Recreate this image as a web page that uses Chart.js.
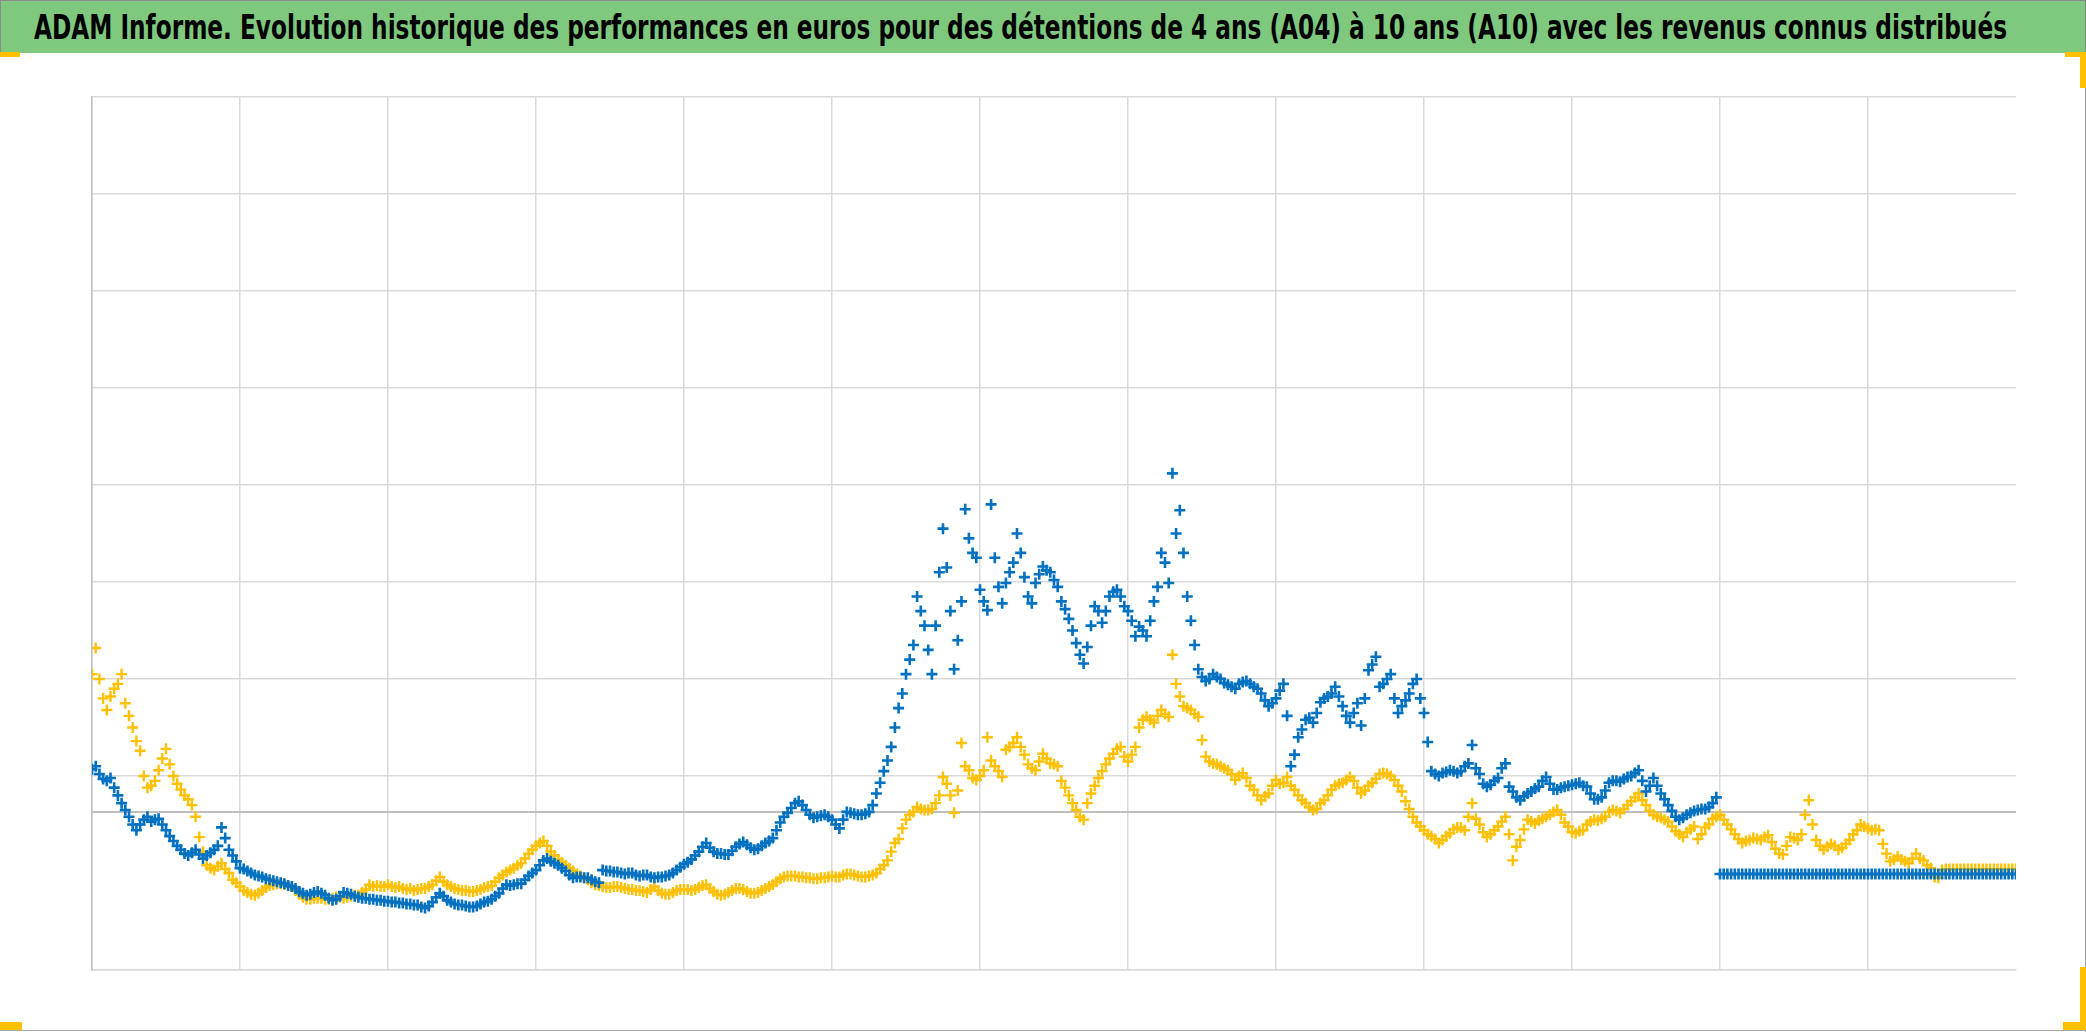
<!DOCTYPE html>
<html>
<head>
<meta charset="utf-8">
<script src="https://cdn.jsdelivr.net/npm/chart.js@4.4.1/dist/chart.umd.min.js"></script>
<style>
  html, body { margin: 0; padding: 0; background: #fff; }
  #wrap { position: relative; width: 2086px; height: 1032px; overflow: hidden; }
  #chart { position: absolute; left: 0; top: 0; }
  #banner {
    position: absolute; left: 0; top: 0; width: 2086px; height: 53px;
    box-sizing: border-box; background: #7ec97e; border: 1px solid #8a8a8a; border-bottom: none;
  }
  #title {
    position: absolute; left: 33px; top: 9px; white-space: nowrap;
    font-family: "Liberation Sans Narrow", "DejaVu Sans Condensed", sans-serif;
    font-weight: bold; font-size: 34px; line-height: 34px; color: #000;
    transform-origin: 0 0;
  }
  .mark { position: absolute; background: #ffc000; }
  .frame { position: absolute; background: #a6a6a6; }
</style>
</head>
<body>
<div id="wrap">
  <canvas id="chart" width="2086" height="1032"></canvas>
  <div id="banner"><span id="title">ADAM Informe. Evolution historique des performances en euros pour des détentions de 4 ans (A04) à 10 ans (A10) avec les revenus connus distribués</span></div>
  <div class="frame" style="left:2085px;top:53px;width:1px;height:979px"></div>
  <div class="frame" style="left:0;top:1030px;width:2086px;height:1px"></div>
  <div class="mark" style="left:0;top:52px;width:20px;height:5px"></div>
  <div class="mark" style="left:2065px;top:52px;width:21px;height:5px"></div>
  <div class="mark" style="left:2080px;top:52px;width:6px;height:36px"></div>
  <div class="mark" style="left:0;top:1022px;width:22px;height:8px"></div>
  <div class="mark" style="left:2063px;top:1022px;width:23px;height:8px"></div>
  <div class="mark" style="left:2080px;top:967px;width:6px;height:63px"></div>
</div>
<script>
// pas entre deux valeurs (unités de l'axe horizontal)
const xStep = 0.025;
const xMin = 0, xMax = 13;
const yMin = 0, yMax = 9;
const axisCross = 1.63;

// A04 (bleu), une valeur tous les 0.025
const serieA04 = [
  // 0
  2.07, 2.10, 2.02, 1.97, 1.95, 1.98, 1.88, 1.80, 1.72, 1.65, 1.58, 1.50, 1.44, 1.50, 1.55, 1.58, 1.53, 1.55, 1.56, 1.50,
  1.44, 1.38, 1.33, 1.28, 1.24, 1.20, 1.18, 1.21, 1.24, 1.19, 1.15, 1.18, 1.21, 1.24, 1.28, 1.47, 1.36, 1.24, 1.18, 1.12,
  // 1
  1.05, 1.04, 1.02, 1.00, 0.98, 0.97, 0.96, 0.94, 0.93, 0.92, 0.91, 0.90, 0.89, 0.87, 0.86, 0.84, 0.81, 0.79, 0.77, 0.78,
  0.80, 0.81, 0.79, 0.77, 0.74, 0.72, 0.73, 0.76, 0.80, 0.79, 0.78, 0.76, 0.75, 0.74, 0.74, 0.73, 0.73, 0.72, 0.72, 0.71,
  // 2
  0.71, 0.70, 0.70, 0.69, 0.69, 0.68, 0.68, 0.67, 0.67, 0.65, 0.64, 0.66, 0.70, 0.75, 0.79, 0.76, 0.72, 0.70, 0.68, 0.67,
  0.67, 0.66, 0.65, 0.65, 0.66, 0.68, 0.70, 0.71, 0.73, 0.76, 0.79, 0.84, 0.88, 0.87, 0.88, 0.89, 0.89, 0.93, 0.97, 1.00,
  // 3
  1.03, 1.08, 1.13, 1.15, 1.12, 1.10, 1.08, 1.05, 1.02, 0.98, 0.95, 0.96, 0.96, 0.95, 0.95, 0.93, 0.91, 0.90, 1.03, 1.02,
  1.02, 1.01, 1.01, 1.00, 0.99, 1.00, 1.00, 0.98, 0.97, 0.98, 0.98, 0.96, 0.95, 0.96, 0.96, 0.97, 0.98, 1.00, 1.03, 1.06,
  // 4
  1.09, 1.11, 1.14, 1.18, 1.22, 1.27, 1.31, 1.26, 1.22, 1.20, 1.20, 1.19, 1.19, 1.23, 1.27, 1.30, 1.32, 1.29, 1.26, 1.24,
  1.25, 1.28, 1.31, 1.33, 1.36, 1.44, 1.52, 1.58, 1.62, 1.67, 1.72, 1.74, 1.70, 1.65, 1.60, 1.57, 1.58, 1.59, 1.60, 1.58,
  // 5
  1.55, 1.50, 1.46, 1.55, 1.63, 1.62, 1.61, 1.60, 1.60, 1.61, 1.63, 1.70, 1.82, 1.93, 2.05, 2.16, 2.30, 2.50, 2.70, 2.85,
  3.05, 3.20, 3.35, 3.85, 3.70, 3.55, 3.30, 3.05, 3.55, 4.10, 4.55, 4.15, 3.70, 3.10, 3.40, 3.80, 4.75, 4.45, 4.30, 4.25,
  // 6
  3.92, 3.80, 3.71, 4.80, 4.25, 3.95, 3.78, 3.99, 4.10, 4.20, 4.50, 4.30, 4.05, 3.85, 3.78, 3.99, 4.08, 4.16, 4.12, 4.10,
  4.02, 3.95, 3.80, 3.72, 3.62, 3.50, 3.37, 3.25, 3.16, 3.33, 3.55, 3.75, 3.70, 3.58, 3.70, 3.85, 3.90, 3.92, 3.85, 3.75,
  // 7
  3.70, 3.60, 3.44, 3.54, 3.50, 3.44, 3.60, 3.80, 3.95, 4.30, 4.20, 3.99, 5.12, 4.50, 4.74, 4.30, 3.85, 3.60, 3.35, 3.10,
  3.02, 2.98, 3.00, 3.05, 3.02, 3.00, 2.96, 2.94, 2.92, 2.90, 2.95, 2.97, 2.98, 2.95, 2.92, 2.90, 2.85, 2.78, 2.72, 2.75,
  // 8
  2.80, 2.88, 2.95, 2.62, 2.10, 2.22, 2.40, 2.48, 2.58, 2.60, 2.55, 2.65, 2.76, 2.80, 2.82, 2.85, 2.92, 2.82, 2.72, 2.62,
  2.55, 2.65, 2.75, 2.52, 2.80, 3.09, 3.15, 3.23, 2.92, 2.95, 3.00, 3.05, 2.80, 2.65, 2.72, 2.78, 2.85, 2.95, 3.00, 2.80,
  // 9
  2.65, 2.35, 2.05, 2.02, 2.00, 2.03, 2.04, 2.06, 2.05, 2.03, 2.05, 2.10, 2.13, 2.32, 2.08, 2.02, 1.92, 1.89, 1.91, 1.95,
  1.98, 2.08, 2.13, 1.89, 1.84, 1.78, 1.75, 1.79, 1.82, 1.84, 1.87, 1.89, 1.95, 1.99, 1.92, 1.86, 1.86, 1.88, 1.89, 1.90,
  // 10
  1.91, 1.92, 1.93, 1.90, 1.89, 1.82, 1.76, 1.76, 1.78, 1.85, 1.93, 1.95, 1.95, 1.94, 1.97, 1.99, 2.00, 2.03, 2.06, 1.95,
  1.84, 1.90, 1.98, 1.90, 1.82, 1.76, 1.70, 1.64, 1.58, 1.55, 1.57, 1.60, 1.62, 1.64, 1.65, 1.66, 1.66, 1.68, 1.72, 1.78,
  // 11 - 13
  0.99, 0.99, 0.99, 0.99, 0.99, 0.99, 0.99, 0.99, 0.99, 0.99, 0.99, 0.99, 0.99, 0.99, 0.99, 0.99, 0.99, 0.99, 0.99, 0.99,
  0.99, 0.99, 0.99, 0.99, 0.99, 0.99, 0.99, 0.99, 0.99, 0.99, 0.99, 0.99, 0.99, 0.99, 0.99, 0.99, 0.99, 0.99, 0.99, 0.99,
  0.99, 0.99, 0.99, 0.99, 0.99, 0.99, 0.99, 0.99, 0.99, 0.99, 0.99, 0.99, 0.99, 0.99, 0.99, 0.99, 0.99, 0.99, 0.99, 0.99,
  0.99, 0.99, 0.99, 0.99, 0.99, 0.99, 0.99, 0.99, 0.99, 0.99, 0.99, 0.99, 0.99, 0.99, 0.99, 0.99, 0.99, 0.99, 0.99, 0.99,
  0.99
];

// A10 (jaune)
const serieA10 = [
  // 0
  3.05, 3.32, 3.00, 2.80, 2.68, 2.82, 2.90, 2.95, 3.05, 2.75, 2.62, 2.50, 2.36, 2.26, 2.00, 1.88, 1.90, 1.95, 2.06, 2.18,
  2.28, 2.12, 2.00, 1.92, 1.86, 1.80, 1.76, 1.70, 1.58, 1.37, 1.22, 1.08, 1.05, 1.03, 1.07, 1.10, 1.04, 1.00, 0.93, 0.90,
  // 1
  0.86, 0.82, 0.80, 0.78, 0.77, 0.79, 0.82, 0.85, 0.87, 0.88, 0.89, 0.89, 0.88, 0.87, 0.86, 0.82, 0.78, 0.75, 0.73, 0.73,
  0.74, 0.74, 0.74, 0.73, 0.73, 0.74, 0.75, 0.75, 0.74, 0.75, 0.76, 0.77, 0.77, 0.80, 0.83, 0.88, 0.86, 0.87, 0.86, 0.86,
  // 2
  0.88, 0.86, 0.85, 0.86, 0.84, 0.83, 0.84, 0.82, 0.83, 0.84, 0.84, 0.86, 0.88, 0.92, 0.96, 0.91, 0.88, 0.86, 0.84, 0.83,
  0.82, 0.82, 0.81, 0.81, 0.82, 0.83, 0.85, 0.86, 0.87, 0.91, 0.95, 0.98, 1.01, 1.03, 1.05, 1.08, 1.10, 1.15, 1.20, 1.24,
  // 3
  1.28, 1.31, 1.33, 1.28, 1.22, 1.18, 1.14, 1.11, 1.08, 1.05, 1.02, 0.99, 0.97, 0.95, 0.93, 0.90, 0.88, 0.87, 0.86, 0.85,
  0.85, 0.86, 0.86, 0.85, 0.84, 0.83, 0.83, 0.82, 0.82, 0.81, 0.80, 0.83, 0.86, 0.82, 0.79, 0.78, 0.78, 0.80, 0.82, 0.83,
  // 4
  0.83, 0.83, 0.82, 0.83, 0.85, 0.87, 0.88, 0.84, 0.81, 0.78, 0.77, 0.78, 0.80, 0.82, 0.84, 0.84, 0.83, 0.81, 0.79, 0.79,
  0.80, 0.82, 0.84, 0.86, 0.88, 0.91, 0.94, 0.96, 0.97, 0.97, 0.97, 0.96, 0.96, 0.95, 0.95, 0.94, 0.94, 0.95, 0.95, 0.96,
  // 5
  0.97, 0.96, 0.96, 0.98, 0.99, 0.99, 0.98, 0.97, 0.96, 0.96, 0.97, 0.98, 1.00, 1.04, 1.08, 1.13, 1.22, 1.31, 1.35, 1.46,
  1.55, 1.60, 1.63, 1.68, 1.66, 1.65, 1.65, 1.66, 1.72, 1.80, 1.99, 1.92, 1.80, 1.62, 1.85, 2.34, 2.10, 2.06, 1.98, 1.96,
  // 6
  2.00, 2.06, 2.40, 2.16, 2.10, 2.05, 1.99, 2.27, 2.30, 2.34, 2.40, 2.30, 2.22, 2.12, 2.08, 2.06, 2.15, 2.23, 2.18, 2.13,
  2.12, 2.10, 1.95, 1.88, 1.80, 1.72, 1.65, 1.58, 1.55, 1.72, 1.82, 1.90, 1.98, 2.05, 2.12, 2.18, 2.23, 2.28, 2.30, 2.20,
  // 7
  2.15, 2.22, 2.30, 2.50, 2.58, 2.61, 2.58, 2.55, 2.62, 2.68, 2.64, 2.61, 3.25, 2.95, 2.82, 2.72, 2.70, 2.68, 2.64, 2.61,
  2.37, 2.20, 2.15, 2.13, 2.12, 2.10, 2.08, 2.06, 2.02, 1.96, 2.00, 2.03, 1.98, 1.90, 1.86, 1.80, 1.75, 1.79, 1.82, 1.90,
  // 8
  1.96, 1.92, 1.93, 1.99, 1.90, 1.86, 1.80, 1.75, 1.72, 1.68, 1.65, 1.66, 1.72, 1.75, 1.80, 1.86, 1.90, 1.92, 1.93, 1.96,
  1.99, 1.95, 1.88, 1.82, 1.85, 1.90, 1.93, 1.97, 2.02, 2.03, 2.02, 2.00, 1.96, 1.90, 1.84, 1.74, 1.66, 1.58, 1.52, 1.48,
  // 9
  1.44, 1.40, 1.38, 1.35, 1.31, 1.34, 1.38, 1.41, 1.45, 1.47, 1.47, 1.44, 1.58, 1.72, 1.56, 1.50, 1.42, 1.37, 1.40, 1.44,
  1.48, 1.53, 1.58, 1.40, 1.13, 1.27, 1.34, 1.45, 1.55, 1.53, 1.51, 1.54, 1.56, 1.58, 1.60, 1.63, 1.65, 1.60, 1.52, 1.48,
  // 10
  1.42, 1.41, 1.43, 1.44, 1.50, 1.53, 1.55, 1.54, 1.56, 1.58, 1.63, 1.65, 1.64, 1.62, 1.66, 1.70, 1.74, 1.78, 1.82, 1.75,
  1.70, 1.64, 1.60, 1.58, 1.57, 1.55, 1.53, 1.48, 1.43, 1.40, 1.37, 1.42, 1.45, 1.48, 1.35, 1.40, 1.47, 1.50, 1.56, 1.58,
  // 11
  1.60, 1.55, 1.50, 1.45, 1.40, 1.35, 1.31, 1.33, 1.34, 1.36, 1.35, 1.34, 1.37, 1.39, 1.32, 1.25, 1.20, 1.19, 1.28, 1.37,
  1.36, 1.34, 1.40, 1.60, 1.75, 1.50, 1.34, 1.28, 1.24, 1.27, 1.30, 1.28, 1.24, 1.26, 1.30, 1.34, 1.40, 1.44, 1.50, 1.48,
  // 12 - 13
  1.46, 1.44, 1.45, 1.44, 1.30, 1.20, 1.12, 1.14, 1.17, 1.14, 1.12, 1.10, 1.15, 1.20, 1.15, 1.13, 1.08, 1.05, 0.96, 0.95,
  1.03, 1.04, 1.04, 1.04, 1.04, 1.04, 1.04, 1.04, 1.04, 1.04, 1.04, 1.04, 1.04, 1.04, 1.04, 1.04, 1.04, 1.04, 1.04, 1.04,
  1.04
];

const toPoints = (arr) => arr.map((v, i) => ({ x: i * xStep, y: v }));

const canvas = document.getElementById('chart');
new Chart(canvas, {
    type: 'scatter',
    data: {
        datasets: [
            {
                label: 'A04',
                data: toPoints(serieA04),
                pointStyle: 'cross',
                pointRadius: 5.5,
                pointBorderWidth: 2.6,
                borderColor: '#0070c0',
                backgroundColor: '#0070c0'
            },
            {
                label: 'A10',
                data: toPoints(serieA10),
                pointStyle: 'cross',
                pointRadius: 5.5,
                pointBorderWidth: 2.4,
                borderColor: '#ffc000',
                backgroundColor: '#ffc000'
            },
            {
                type: 'line',
                label: 'axe',
                data: [{ x: xMin, y: axisCross }, { x: xMax, y: axisCross }],
                borderColor: '#bfbfbf',
                borderWidth: 2,
                pointRadius: 0
            }
        ]
    },
    options: {
        responsive: false,
        animation: false,
        devicePixelRatio: 1,
        layout: { padding: { left: 92, top: 97, right: 70, bottom: 62 } },
        plugins: {
            legend: { display: false },
            tooltip: { enabled: false }
        },
        scales: {
            x: {
                type: 'linear',
                min: xMin,
                max: xMax,
                ticks: { display: false, stepSize: 1 },
                grid: {
                    drawTicks: false,
                    lineWidth: 1.5,
                    color: (c) => c.tick && c.tick.value === xMax ? 'rgba(0,0,0,0)' : '#d9d9d9'
                },
                border: { color: '#d9d9d9', width: 1.5 }
            },
            y: {
                min: yMin,
                max: yMax,
                ticks: { display: false, stepSize: 1 },
                grid: {
                    drawTicks: false,
                    lineWidth: 1.5,
                    color: (c) => c.tick && c.tick.value === 1 ? 'rgba(0,0,0,0)' : '#d9d9d9'
                },
                border: { color: '#bfbfbf', width: 1.5 }
            }
        }
    }
});

// ajuster la largeur du titre
const title = document.getElementById('title');
const w = title.getBoundingClientRect().width;
title.style.transform = 'scaleX(' + (1973 / w) + ')';
</script>
</body>
</html>
